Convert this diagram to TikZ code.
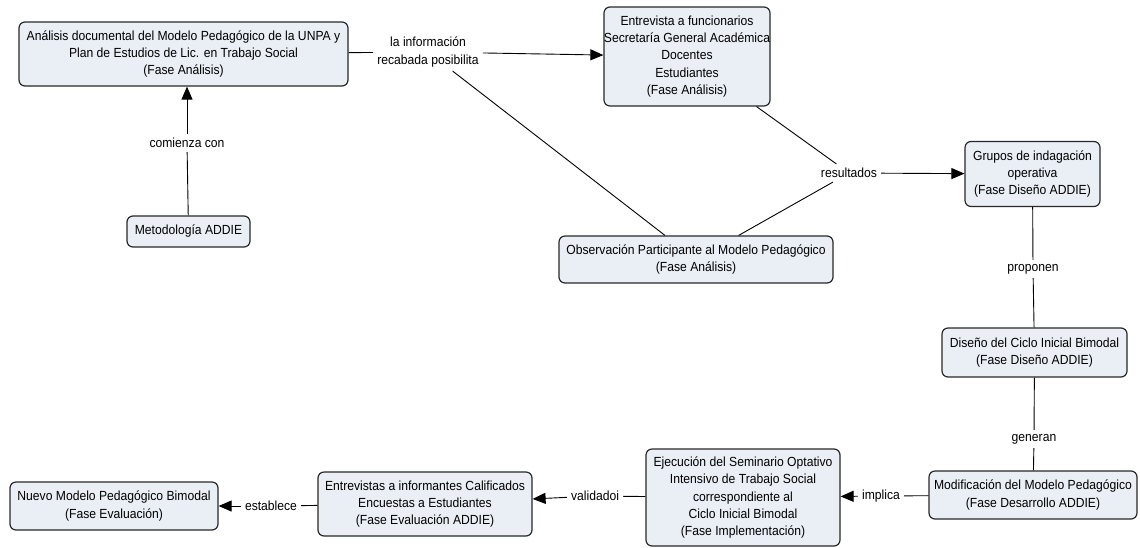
\documentclass[tikz,border=0pt]{standalone}
\usepackage{fontspec}
\setmainfont{Liberation Sans}[FakeStretch=0.92]
\usetikzlibrary{arrows.meta}
\definecolor{boxfill}{RGB}{233,239,245}
\definecolor{boxdraw}{RGB}{40,40,40}
\tikzset{
  concept/.style={draw=boxdraw, fill=boxfill, rounded corners=6pt, line width=1.2pt,
    align=center, inner sep=0pt, font=\fontsize{13.2}{17.3}\selectfont},
  linklabel/.style={align=center, inner sep=4pt, font=\fontsize{13.2}{17.3}\selectfont},
  conn/.style={draw=black, line width=0.9pt},
  arr/.style={conn, -{Triangle[length=13pt,width=11pt]}},
}
\begin{document}
\begin{tikzpicture}[x=1pt,y=-1pt]
\useasboundingbox[fill=white] (0,0) rectangle (1140,547);

% concepts
\node[concept, minimum width=329pt, minimum height=64pt] (anal) at (183.5,54)
  {Análisis documental del Modelo Pedagógico de la UNPA y\\Plan de Estudios de Lic. en Trabajo Social\\(Fase Análisis)};
\node[concept, minimum width=160pt, minimum height=99pt] (entre) at (687,56.5)
  {Entrevista a funcionarios\\Secretaría General Académica\\Docentes\\Estudiantes\\(Fase Análisis)};
\node[concept, minimum width=123pt, minimum height=31pt] (meto) at (188.5,231.5)
  {Metodología ADDIE};
\node[concept, minimum width=274pt, minimum height=47pt] (obs) at (696,259.5)
  {Observación Participante al Modelo Pedagógico\\(Fase Análisis)};
\node[concept, minimum width=135pt, minimum height=65pt] (grupos) at (1032.5,174)
  {Grupos de indagación\\operativa\\(Fase Diseño ADDIE)};
\node[concept, minimum width=185pt, minimum height=49pt] (diseno) at (1034.5,352.5)
  {Diseño del Ciclo Inicial Bimodal\\(Fase Diseño ADDIE)};
\node[concept, minimum width=208pt, minimum height=48pt] (modif) at (1033,495)
  {Modificación del Modelo Pedagógico\\(Fase Desarrollo ADDIE)};
\node[concept, minimum width=194pt, minimum height=97pt] (ejec) at (743,497.5)
  {Ejecución del Seminario Optativo\\Intensivo de Trabajo Social\\correspondiente al\\Ciclo Inicial Bimodal\\(Fase Implementación)};
\node[concept, minimum width=214pt, minimum height=64pt] (entrevistas) at (425,504)
  {Entrevistas a informantes Calificados\\Encuestas a Estudiantes\\(Fase Evaluación ADDIE)};
\node[concept, minimum width=208pt, minimum height=48pt] (nuevo) at (114,506)
  {Nuevo Modelo Pedagógico Bimodal\\(Fase Evaluación)};

% linking phrases
\node[linklabel] (comienza) at (187,143) {comienza con};
\node[linklabel] (info) at (428,52) {la información\\recabada posibilita};
\node[linklabel] (resultados) at (849,173) {resultados};
\node[linklabel] (proponen) at (1033,269) {proponen};
\node[linklabel] (generan) at (1034,439) {generan};
\node[linklabel] (implica) at (881,496) {implica};
\node[linklabel] (validadoi) at (595,496) {validadoi};
\node[linklabel] (establece) at (271,506) {establece};

% connectors
\draw[conn] (meto) -- (comienza);
\draw[arr] (comienza) -- (comienza |- anal.south);
\draw[conn] (anal) -- (info);
\draw[arr] (info) -- (entre);
\draw[conn] (info) -- (obs);
\draw[conn] (entre) -- (resultados);
\draw[conn] (obs) -- (resultados);
\draw[arr] (resultados) -- (grupos);
\draw[conn] (grupos) -- (proponen);
\draw[conn] (proponen) -- (diseno);
\draw[conn] (diseno) -- (generan);
\draw[conn] (generan) -- (modif);
\draw[conn] (modif) -- (implica);
\draw[arr] (implica) -- (ejec);
\draw[conn] (ejec) -- (validadoi);
\draw[arr] (validadoi) -- (entrevistas);
\draw[conn] (entrevistas) -- (establece);
\draw[arr] (establece) -- (nuevo);
\end{tikzpicture}
\end{document}
